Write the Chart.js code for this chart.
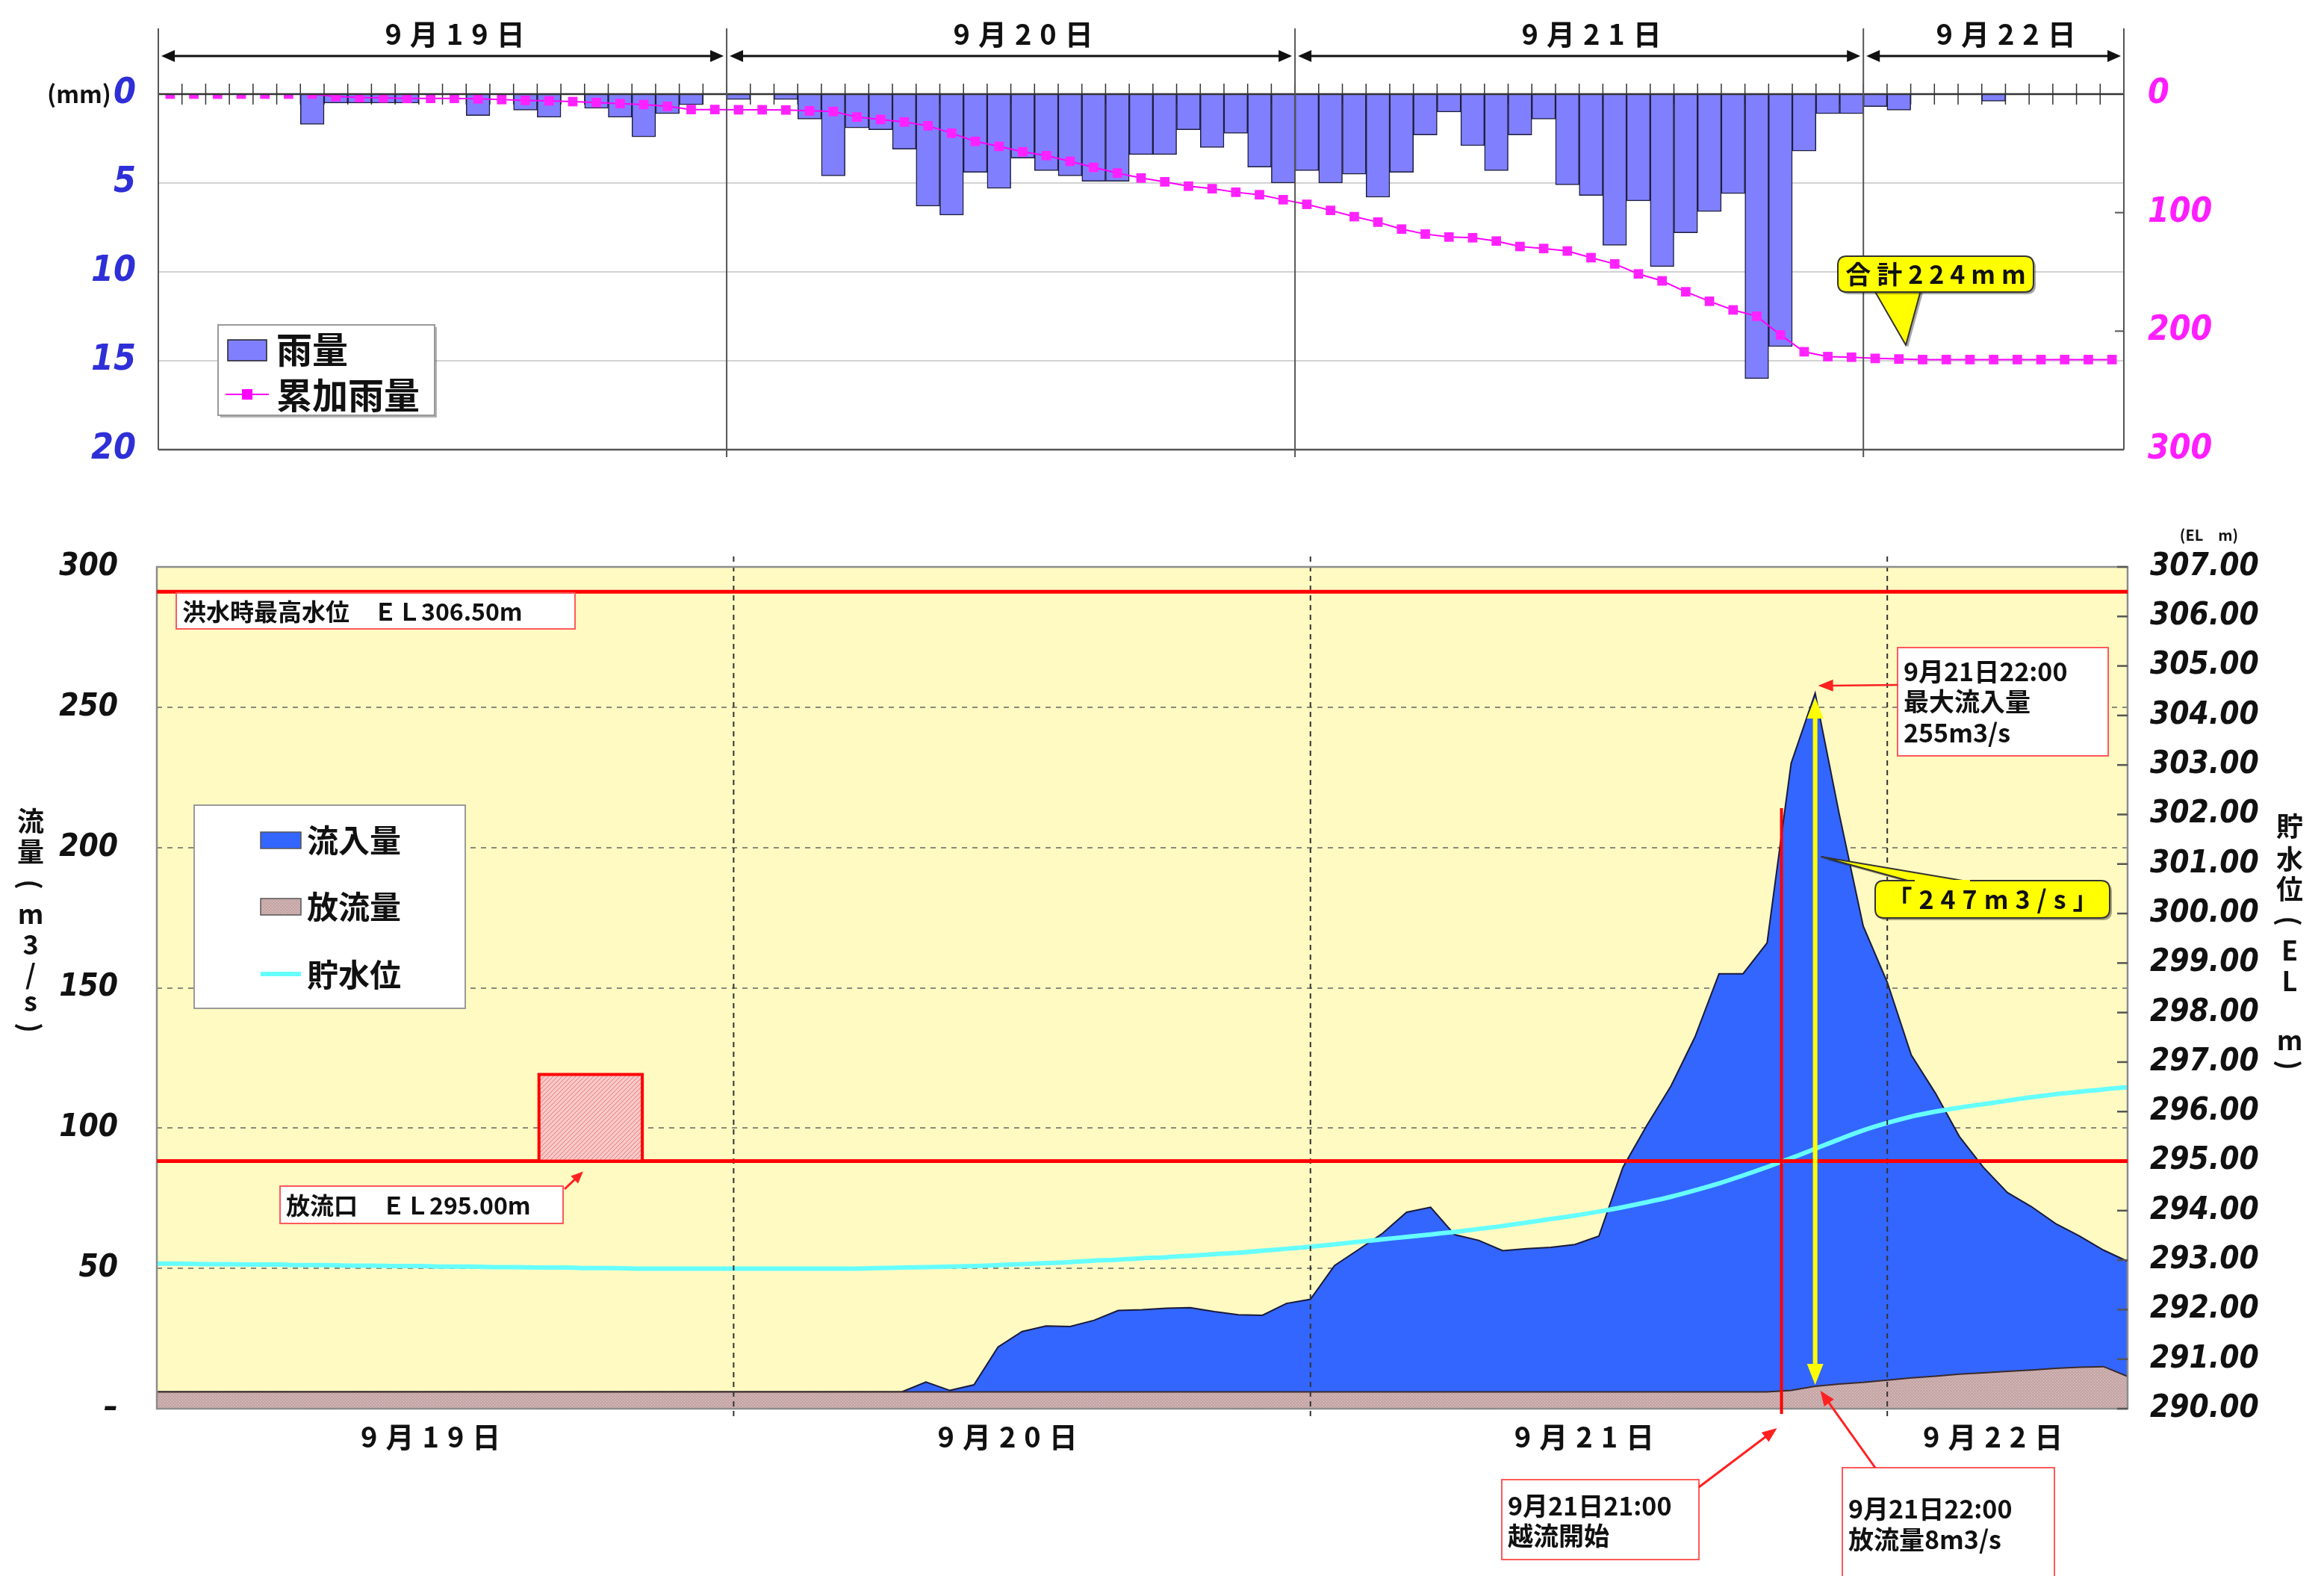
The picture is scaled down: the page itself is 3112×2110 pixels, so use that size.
<!DOCTYPE html>
<html>
<head>
<meta charset="utf-8">
<script src="https://cdn.jsdelivr.net/npm/chart.js@4.4.1/dist/chart.umd.min.js"></script>
<style>
  html, body { margin: 0; padding: 0; background: #fff; }
  #wrap { position: relative; width: 3112px; height: 2110px; overflow: hidden; }
  canvas { position: absolute; left: 0; }
  #rainCanvas { top: 0; }
  #flowCanvas { top: 640px; }
</style>
</head>
<body>
<div id="wrap">
  <canvas id="rainCanvas" width="3112" height="640"></canvas>
  <canvas id="flowCanvas" width="3112" height="1470"></canvas>
</div>
<script>
// ---- data (hourly, 9/19 0:00 .. 9/22 10:00) ----
const days = ['9月19日', '9月20日', '9月21日', '9月22日'];
const dayStarts = [0, 24, 48, 72];
const hoursShown = 83;

// hourly rainfall (mm)
const rainfall = [
  0, 0, 0, 0, 0, 0, 1.7, 0.5, 0.5, 0.5, 0.5, 0, 0, 1.2, 0, 0.9, 1.3, 0, 0.8, 1.3, 2.4, 1.1, 0.6, 0,
  0.3, 0, 0.3, 1.4, 4.6, 1.9, 2.0, 3.1, 6.3, 6.8, 4.4, 5.3, 3.6, 4.3, 4.6, 4.9, 4.9, 3.4, 3.4, 2.0, 3.0, 2.2, 4.1, 5.0,
  4.3, 5.0, 4.5, 5.8, 4.4, 2.3, 1.0, 2.9, 4.3, 2.3, 1.4, 5.1, 5.7, 8.5, 6.0, 9.7, 7.8, 6.6, 5.6, 16.0, 14.2, 3.2, 1.1, 1.1,
  0.7, 0.9, 0, 0, 0, 0.4, 0, 0, 0, 0, 0
];
// cumulative rainfall (mm)
const cumulativeRain = [
  0, 0, 0, 0, 0, 0, 0, 2.1, 2.9, 3.2, 3.6, 3.6, 3.6, 4.0, 4.6, 5.3, 5.7, 6.3, 7.1, 8.0, 8.8, 10.3, 13.0, 13.0,
  13.2, 13.2, 13.4, 14.1, 14.7, 19.3, 21.4, 23.5, 26.7, 33.0, 39.9, 44.1, 48.7, 51.9, 56.7, 61.8, 66.6, 70.8, 74.0, 77.7, 79.8, 82.8, 84.9, 89.1,
  93.0, 98.1, 103.4, 108.0, 113.9, 118.1, 120.6, 121.2, 124.0, 128.6, 130.3, 132.4, 138.0, 143.3, 151.7, 157.6, 166.8, 174.8, 182.1, 187.4, 203.2, 217.4, 221.5, 222.0,
  223.0, 223.5, 224, 224, 224, 224, 224, 224, 224, 224, 224
];
// inflow (m3/s)
const inflow = [
  6, 6, 6, 6, 6, 6, 6, 6, 6, 6, 6, 6, 6, 6, 6, 6, 6, 6, 6, 6, 6, 6, 6, 6,
  6, 6, 6, 6, 6, 6, 6, 6, 9.5, 6.5, 8.5, 22, 27.5, 29.5, 29.3, 31.5, 35, 35.3, 35.8, 36, 34.6, 33.5, 33.3, 37.5,
  39, 51, 56.7, 62.5, 70, 71.8, 62, 60, 56.3, 57, 57.5, 58.5, 61.5, 86, 101, 115, 132.5, 155, 155, 166, 230, 255, 212, 172,
  152, 126, 112.5, 97, 86, 77, 72, 66, 61.5, 56.5, 52.5
];
// outflow (m3/s)
const outflow = [
  6, 6, 6, 6, 6, 6, 6, 6, 6, 6, 6, 6, 6, 6, 6, 6, 6, 6, 6, 6, 6, 6, 6, 6,
  6, 6, 6, 6, 6, 6, 6, 6, 6, 6, 6, 6, 6, 6, 6, 6, 6, 6, 6, 6, 6, 6, 6, 6,
  6, 6, 6, 6, 6, 6, 6, 6, 6, 6, 6, 6, 6, 6, 6, 6, 6, 6, 6, 6, 6.5, 8, 8.8, 9.4,
  10.2, 11, 11.6, 12.3, 12.8, 13.3, 13.8, 14.4, 14.8, 15, 11.5
];
// reservoir level (EL m)
const reservoirLevel = [
  292.93, 292.93, 292.92, 292.92, 292.91, 292.91, 292.90, 292.90, 292.89, 292.89, 292.88, 292.88,
  292.87, 292.87, 292.86, 292.86, 292.85, 292.85, 292.84, 292.84, 292.83, 292.83, 292.83, 292.83,
  292.83, 292.83, 292.83, 292.83, 292.83, 292.83, 292.84, 292.85, 292.86, 292.87, 292.88, 292.90,
  292.92, 292.94, 292.96, 292.99, 293.01, 293.04, 293.06, 293.09, 293.12, 293.15, 293.19, 293.23,
  293.27, 293.32, 293.37, 293.42, 293.47, 293.52, 293.57, 293.63, 293.69, 293.76, 293.83, 293.90,
  293.98, 294.07, 294.17, 294.28, 294.41, 294.55, 294.71, 294.88, 295.06, 295.25, 295.44, 295.62,
  295.77, 295.90, 296.00, 296.08, 296.15, 296.22, 296.29, 296.35, 296.40, 296.45, 296.49
];

const rainTicks = [0, 5, 10, 15, 20];
const cumTicks = [0, 100, 200, 300];
const flowTicks = [0, 50, 100, 150, 200, 250, 300];
const levelTicks = [290, 291, 292, 293, 294, 295, 296, 297, 298, 299, 300, 301, 302, 303, 304, 305, 306, 307];

// annotation values
const floodLevel = 306.5;
const outletLevel = 295.0;
const outletMark = { from: 15.9, to: 20.2, top: 296.75 };
const peakHour = 69;
const peakInflow = 255;
const peakOutflow = 8;
const overflowHour = 67.6;
const overflowLineTop = 214;

const floodText = '洪水時最高水位　ＥＬ306.50m';
const outletText = '放流口　ＥＬ295.00m';
const peakText = ['9月21日22:00', '最大流入量', '255m3/s'];
const netText = '「247m3/s」';
const overflowText = ['9月21日21:00', '越流開始'];
const outflowText = ['9月21日22:00', '放流量8m3/s'];
const totalText = '合計224mm';

const hourLabels = [];
for (let h = 0; h < hoursShown; h++) {
  hourLabels.push(days[Math.floor(h / 24)] + ' ' + (h % 24) + ':00');
}

// ---- drawing helpers ----
const JP = '"Noto Sans CJK JP", "Noto Sans", sans-serif';
const NUM = '"Liberation Sans Narrow", "DejaVu Sans Condensed", "Liberation Sans", sans-serif';

function line(ctx, x1, y1, x2, y2) {
  ctx.beginPath();
  ctx.moveTo(x1, y1);
  ctx.lineTo(x2, y2);
  ctx.stroke();
}

function arrowHead(ctx, x, y, ang, len, half) {
  ctx.beginPath();
  ctx.moveTo(x, y);
  ctx.lineTo(x - len * Math.cos(ang) + half * Math.sin(ang), y - len * Math.sin(ang) - half * Math.cos(ang));
  ctx.lineTo(x - len * Math.cos(ang) - half * Math.sin(ang), y - len * Math.sin(ang) + half * Math.cos(ang));
  ctx.closePath();
  ctx.fill();
}

function arrow(ctx, x1, y1, x2, y2, color, width, len, half) {
  const ang = Math.atan2(y2 - y1, x2 - x1);
  ctx.save();
  ctx.strokeStyle = color;
  ctx.fillStyle = color;
  ctx.lineWidth = width;
  line(ctx, x1, y1, x2 - Math.cos(ang) * len * 0.7, y2 - Math.sin(ang) * len * 0.7);
  arrowHead(ctx, x2, y2, ang, len, half);
  ctx.restore();
}

function textBox(ctx, x, y, w, h, lines, lineYs, size) {
  ctx.save();
  ctx.fillStyle = '#ffffff';
  ctx.fillRect(x, y, w, h);
  ctx.strokeStyle = '#ff5a5a';
  ctx.lineWidth = 2;
  ctx.strokeRect(x, y, w, h);
  ctx.fillStyle = '#111';
  ctx.font = 'bold ' + size + 'px ' + JP;
  ctx.textAlign = 'left';
  ctx.textBaseline = 'middle';
  lines.forEach((t, i) => ctx.fillText(t, x + 8, lineYs[i]));
  ctx.restore();
}

function roundRect(ctx, x, y, w, h, r) {
  ctx.beginPath();
  ctx.moveTo(x + r, y);
  ctx.lineTo(x + w - r, y);
  ctx.quadraticCurveTo(x + w, y, x + w, y + r);
  ctx.lineTo(x + w, y + h - r);
  ctx.quadraticCurveTo(x + w, y + h, x + w - r, y + h);
  ctx.lineTo(x + r, y + h);
  ctx.quadraticCurveTo(x, y + h, x, y + h - r);
  ctx.lineTo(x, y + r);
  ctx.quadraticCurveTo(x, y, x + r, y);
  ctx.closePath();
}

function callout(ctx, x, y, w, h, base1, base2, tip, text, size, spacing) {
  ctx.save();
  ctx.fillStyle = '#ffff00';
  ctx.strokeStyle = '#333';
  ctx.lineWidth = 2;
  ctx.shadowColor = 'rgba(0,0,0,0.35)';
  ctx.shadowOffsetX = 3;
  ctx.shadowOffsetY = 3;
  ctx.beginPath();
  ctx.moveTo(base1[0], base1[1]);
  ctx.lineTo(tip[0], tip[1]);
  ctx.lineTo(base2[0], base2[1]);
  ctx.closePath();
  ctx.fill();
  ctx.shadowColor = 'transparent';
  ctx.stroke();
  ctx.shadowColor = 'rgba(0,0,0,0.35)';
  roundRect(ctx, x, y, w, h, 12);
  ctx.fill();
  ctx.shadowColor = 'transparent';
  ctx.stroke();
  ctx.beginPath();
  ctx.moveTo(base1[0] + 2, base1[1] - 1);
  ctx.lineTo(base2[0] - 2, base2[1] - 1);
  ctx.lineWidth = 4;
  ctx.strokeStyle = '#ffff00';
  ctx.stroke();
  ctx.fillStyle = '#111';
  ctx.font = 'bold ' + size + 'px ' + JP;
  ctx.letterSpacing = spacing + 'px';
  ctx.textAlign = 'center';
  ctx.textBaseline = 'middle';
  ctx.fillText(text, x + w / 2 + spacing / 2, y + h / 2);
  ctx.restore();
}

// stacked (tate-gaki) axis title; brackets are turned sideways
function verticalText(ctx, items, x, size) {
  ctx.save();
  ctx.fillStyle = '#111';
  ctx.font = 'bold ' + size + 'px ' + JP;
  ctx.textAlign = 'center';
  ctx.textBaseline = 'middle';
  items.forEach(([ch, y]) => {
    if (ch === '(' || ch === ')') {
      ctx.save();
      ctx.translate(x, y);
      ctx.rotate(Math.PI / 2);
      ctx.fillText(ch, 0, 0);
      ctx.restore();
    } else {
      ctx.fillText(ch, x, y);
    }
  });
  ctx.restore();
}

function dotPattern(base, dot) {
  const c = document.createElement('canvas');
  c.width = 4; c.height = 4;
  const g = c.getContext('2d');
  g.fillStyle = base;
  g.fillRect(0, 0, 4, 4);
  g.fillStyle = dot;
  g.fillRect(0, 0, 1, 1);
  g.fillRect(2, 2, 1, 1);
  return g.createPattern(c, 'repeat');
}

function hatchPattern(base, stroke) {
  const c = document.createElement('canvas');
  c.width = 6; c.height = 6;
  const g = c.getContext('2d');
  g.fillStyle = base;
  g.fillRect(0, 0, 6, 6);
  g.strokeStyle = stroke;
  g.lineWidth = 1;
  g.beginPath();
  g.moveTo(0, 6); g.lineTo(6, 0);
  g.moveTo(-1, 1); g.lineTo(1, -1);
  g.moveTo(5, 7); g.lineTo(7, 5);
  g.stroke();
  return g.createPattern(c, 'repeat');
}

// keep tick labels from pushing the plot area inward
function noLabelPadding(s) {
  s.paddingTop = 0;
  s.paddingBottom = 0;
}

const outflowFill = dotPattern('#c6a6a6', '#e2cdcd');
const outletFill = hatchPattern('#f8c8c8', '#e67a7a');

// ---- rainfall chart ----
const rainDecor = {
  id: 'rainDecor',
  beforeDatasetsDraw(chart) {
    const { ctx, scales: { x, yRain } } = chart;
    const y0 = yRain.getPixelForValue(0);
    ctx.save();
    ctx.strokeStyle = '#333';
    ctx.lineWidth = 1.5;
    for (let k = 1; k < hoursShown; k++) {
      const px = (x.getPixelForValue(k - 1) + x.getPixelForValue(k)) / 2;
      line(ctx, px, y0 - 14, px, y0 + 14);
    }
    ctx.restore();
  },
  afterDatasetsDraw(chart) {
    const { ctx, chartArea: a, scales: { x, yRain, yCum } } = chart;
    const bounds = [a.left];
    dayStarts.slice(1).forEach(h => bounds.push((x.getPixelForValue(h - 1) + x.getPixelForValue(h)) / 2));
    bounds.push(a.right);

    ctx.save();
    // zero line and frame
    ctx.strokeStyle = '#333';
    ctx.lineWidth = 2.5;
    line(ctx, a.left, yRain.getPixelForValue(0), a.right, yRain.getPixelForValue(0));
    ctx.strokeStyle = '#555';
    line(ctx, a.left, a.bottom, a.right, a.bottom);
    ctx.lineWidth = 2;
    bounds.forEach((b, i) => {
      const bottom = (i === 0 || i === bounds.length - 1) ? a.bottom : a.bottom + 10;
      line(ctx, b, 38, b, bottom);
    });
    // inward ticks on the right axis
    cumTicks.slice(1, -1).forEach(v => line(ctx, a.right - 12, yCum.getPixelForValue(v), a.right, yCum.getPixelForValue(v)));

    // header: day names with double arrows
    ctx.fillStyle = '#111';
    ctx.strokeStyle = '#111';
    ctx.lineWidth = 3;
    ctx.font = 'bold 38px ' + JP;
    ctx.textAlign = 'center';
    ctx.textBaseline = 'middle';
    ctx.letterSpacing = '11px';
    for (let i = 0; i < days.length; i++) {
      const l = bounds[i], r = bounds[i + 1];
      ctx.fillText(days[i], (l + r) / 2 + 22, 46);
      line(ctx, l + 8, 75, r - 8, 75);
      arrowHead(ctx, l + 4, 75, Math.PI, 18, 8);
      arrowHead(ctx, r - 4, 75, 0, 18, 8);
    }
    ctx.restore();
  },
  afterDraw(chart) {
    const { ctx, scales: { yRain } } = chart;
    ctx.save();
    // unit label
    ctx.fillStyle = '#111';
    ctx.font = 'bold 32px ' + JP;
    ctx.textAlign = 'center';
    ctx.textBaseline = 'middle';
    ctx.fillText('(mm)', 106, yRain.getPixelForValue(0));

    // legend
    ctx.shadowColor = 'rgba(0,0,0,0.3)';
    ctx.shadowOffsetX = 3;
    ctx.shadowOffsetY = 3;
    ctx.fillStyle = '#fff';
    ctx.fillRect(292, 435, 290, 121);
    ctx.shadowColor = 'transparent';
    ctx.strokeStyle = '#999';
    ctx.lineWidth = 2;
    ctx.strokeRect(292, 435, 290, 121);
    ctx.fillStyle = '#8080ff';
    ctx.fillRect(305, 455, 52, 28);
    ctx.strokeStyle = '#222';
    ctx.lineWidth = 1.5;
    ctx.strokeRect(305, 455, 52, 28);
    ctx.strokeStyle = '#ff00ff';
    ctx.lineWidth = 2;
    line(ctx, 302, 528, 360, 528);
    ctx.fillStyle = '#ff00ff';
    ctx.fillRect(324, 521, 14, 14);
    ctx.fillStyle = '#111';
    ctx.font = 'bold 48px ' + JP;
    ctx.textAlign = 'left';
    ctx.fillText('雨量', 370, 468);
    ctx.fillText('累加雨量', 370, 529);
    ctx.restore();

    // total callout
    callout(ctx, 2461, 343, 262, 48, [2510, 389], [2572, 389], [2552, 462], totalText, 34, 8);
  }
};

new Chart(document.getElementById('rainCanvas'), {
  type: 'bar',
  data: {
    labels: hourLabels,
    datasets: [
      {
        type: 'line',
        label: '累加雨量',
        data: cumulativeRain,
        yAxisID: 'yCum',
        borderColor: '#ff00ff',
        backgroundColor: '#ff00ff',
        borderWidth: 2,
        pointStyle: 'rect',
        pointRadius: 9,
        pointBorderWidth: 0,
        pointBackgroundColor: '#ff22ff',
        tension: 0,
        order: 0
      },
      {
        label: '雨量',
        data: rainfall,
        yAxisID: 'yRain',
        backgroundColor: '#8080ff',
        borderColor: '#1e1e3c',
        borderWidth: 1.5,
        barPercentage: 1,
        categoryPercentage: 1,
        order: 1
      }
    ]
  },
  options: {
    responsive: false,
    animation: false,
    layout: { padding: { left: 0, right: 0, top: 0, bottom: 38 } },
    plugins: { legend: { display: false }, tooltip: { enabled: false } },
    scales: {
      x: {
        position: 'top',
        offset: true,
        grid: { display: false },
        ticks: { display: false },
        border: { display: false },
        afterFit(s) { s.height = 126; }
      },
      yRain: {
        position: 'left',
        reverse: true,
        min: rainTicks[0],
        max: rainTicks[rainTicks.length - 1],
        afterBuildTicks(s) { s.ticks = rainTicks.map(v => ({ value: v })); },
        ticks: {
          color: '#2f2fd8',
          padding: 30,
          font: { family: NUM, size: 48, weight: 'bold', style: 'italic' }
        },
        grid: {
          drawTicks: false,
          lineWidth: 2,
          color: c => (c.tick && (c.tick.value === 0 || c.tick.value === 20)) ? 'rgba(0,0,0,0)' : '#d2d2d2'
        },
        border: { display: false },
        afterFit(s) { s.width = 212; noLabelPadding(s); }
      },
      yCum: {
        position: 'right',
        reverse: true,
        min: cumTicks[0],
        max: cumTicks[cumTicks.length - 1],
        afterBuildTicks(s) { s.ticks = cumTicks.map(v => ({ value: v })); },
        ticks: {
          color: '#ff1eff',
          padding: 32,
          font: { family: NUM, size: 46, weight: 'bold', style: 'italic' }
        },
        grid: { drawOnChartArea: false, drawTicks: false },
        border: { display: false },
        afterFit(s) { s.width = 268; noLabelPadding(s); }
      }
    }
  },
  plugins: [rainDecor]
});

// ---- flow / reservoir chart ----
const flowDecor = {
  id: 'flowDecor',
  beforeDraw(chart) {
    const { ctx, chartArea: a } = chart;
    ctx.save();
    ctx.fillStyle = '#fffac2';
    ctx.fillRect(a.left, a.top, a.right - a.left, a.bottom - a.top);
    ctx.restore();
  },
  afterDatasetsDraw(chart) {
    const { ctx, chartArea: a, scales: { x, yFlow, yLevel } } = chart;
    ctx.save();
    // day dividers (dashed)
    ctx.strokeStyle = '#333';
    ctx.lineWidth = 2;
    ctx.setLineDash([7, 6]);
    dayStarts.slice(1).forEach(h => line(ctx, x.getPixelForValue(h), a.top - 14, x.getPixelForValue(h), a.bottom + 14));
    ctx.setLineDash([]);

    // frame
    ctx.strokeStyle = '#8c8c8c';
    ctx.lineWidth = 2.5;
    ctx.strokeRect(a.left, a.top, a.right - a.left, a.bottom - a.top);
    ctx.strokeStyle = '#555';
    levelTicks.forEach(v => line(ctx, a.right - 14, yLevel.getPixelForValue(v), a.right, yLevel.getPixelForValue(v)));

    // reference levels
    ctx.strokeStyle = '#ff0000';
    ctx.lineWidth = 5;
    line(ctx, a.left, yLevel.getPixelForValue(floodLevel), a.right, yLevel.getPixelForValue(floodLevel));
    line(ctx, a.left, yLevel.getPixelForValue(outletLevel), a.right, yLevel.getPixelForValue(outletLevel));

    // outlet marker
    const ox1 = x.getPixelForValue(outletMark.from), ox2 = x.getPixelForValue(outletMark.to);
    const oy1 = yLevel.getPixelForValue(outletMark.top), oy2 = yLevel.getPixelForValue(outletLevel);
    ctx.fillStyle = outletFill;
    ctx.fillRect(ox1, oy1, ox2 - ox1, oy2 - oy1);
    ctx.lineWidth = 4;
    ctx.strokeRect(ox1, oy1, ox2 - ox1, oy2 - oy1);

    // overflow start line
    const vx = x.getPixelForValue(overflowHour);
    ctx.lineWidth = 4;
    line(ctx, vx, yFlow.getPixelForValue(overflowLineTop), vx, a.bottom + 7);

    // peak double arrow
    const px = x.getPixelForValue(peakHour);
    const yTop = yFlow.getPixelForValue(peakInflow) + 6;
    const yBot = yFlow.getPixelForValue(peakOutflow) - 2;
    ctx.strokeStyle = '#ffff00';
    ctx.fillStyle = '#ffff00';
    ctx.lineWidth = 6;
    line(ctx, px, yTop + 20, px, yBot - 20);
    arrowHead(ctx, px, yTop, -Math.PI / 2, 28, 11);
    arrowHead(ctx, px, yBot, Math.PI / 2, 28, 11);
    ctx.restore();
  },
  afterDraw(chart) {
    const { ctx, chartArea: a, scales: { x, yFlow, yLevel } } = chart;
    ctx.save();
    // day labels under the axis
    ctx.fillStyle = '#111';
    ctx.font = 'bold 38px ' + JP;
    ctx.letterSpacing = '11px';
    ctx.textAlign = 'center';
    ctx.textBaseline = 'middle';
    days.forEach((d, i) => {
      const end = i + 1 < dayStarts.length ? dayStarts[i + 1] : hoursShown - 1;
      ctx.fillText(d, x.getPixelForValue((dayStarts[i] + end) / 2) - 14, a.bottom + 38);
    });
    ctx.letterSpacing = '0px';

    // unit over right axis
    ctx.font = 'bold 20px ' + JP;
    ctx.fillText('(EL　m)', 2958, 76);
    ctx.restore();

    // axis titles
    verticalText(ctx, [['流', 459], ['量', 500], ['(', 544], ['m', 583], ['3', 624], ['/', 664], ['s', 700], [')', 736]], 41, 36);
    verticalText(ctx, [['貯', 466], ['水', 510], ['位', 550], ['(', 593], ['E', 632], ['L', 673], ['m', 752], [')', 786]], 3066, 36);

    // legend
    ctx.save();
    ctx.fillStyle = '#fff';
    ctx.fillRect(260, 438, 363, 272);
    ctx.strokeStyle = '#9a9a9a';
    ctx.lineWidth = 2;
    ctx.strokeRect(260, 438, 363, 272);
    ctx.fillStyle = '#3366ff';
    ctx.fillRect(349, 474, 54, 22);
    ctx.fillStyle = outflowFill;
    ctx.fillRect(349, 563, 54, 22);
    ctx.strokeStyle = '#555';
    ctx.lineWidth = 1.5;
    ctx.strokeRect(349, 474, 54, 22);
    ctx.strokeRect(349, 563, 54, 22);
    ctx.strokeStyle = '#66ffff';
    ctx.lineWidth = 6;
    line(ctx, 349, 664, 403, 664);
    ctx.fillStyle = '#111';
    ctx.font = 'bold 42px ' + JP;
    ctx.textAlign = 'left';
    ctx.textBaseline = 'middle';
    ctx.fillText('流入量', 411, 485);
    ctx.fillText('放流量', 411, 574);
    ctx.fillText('貯水位', 411, 665);
    ctx.restore();

    // annotation boxes
    textBox(ctx, 236, 154, 534, 48, [floodText], [179], 32);
    textBox(ctx, 375, 948, 379, 50, [outletText], [974], 32);
    arrow(ctx, 756, 952, x.getPixelForValue((outletMark.from + outletMark.to) / 2) - 10, yLevel.getPixelForValue(outletLevel) + 14, '#ff2020', 3, 16, 7);

    const px = x.getPixelForValue(peakHour);
    textBox(ctx, 2541, 227, 282, 145, peakText, [259, 299, 341], 34);
    arrow(ctx, 2541, 277, px + 4, yFlow.getPixelForValue(peakInflow) - 10, '#ff2020', 2.5, 20, 8);

    callout(ctx, 2511, 539, 314, 50, [2562, 541], [2640, 541], [px + 8, 507], netText, 34, 9);

    textBox(ctx, 2011, 1341, 264, 107, overflowText, [1376, 1416], 34);
    arrow(ctx, 2275, 1351, x.getPixelForValue(overflowHour) - 6, a.bottom + 26, '#ff2020', 3, 20, 8);

    textBox(ctx, 2467, 1325, 284, 150, outflowText, [1380, 1421], 34);
    arrow(ctx, 2511, 1325, px + 7, yFlow.getPixelForValue(peakOutflow) + 6, '#ff2020', 3, 20, 8);
  }
};

new Chart(document.getElementById('flowCanvas'), {
  type: 'line',
  data: {
    labels: hourLabels,
    datasets: [
      {
        label: '貯水位',
        data: reservoirLevel,
        yAxisID: 'yLevel',
        borderColor: '#66ffff',
        borderWidth: 6,
        pointRadius: 0,
        fill: false,
        cubicInterpolationMode: 'monotone',
        order: 0
      },
      {
        label: '放流量',
        data: outflow,
        yAxisID: 'yFlow',
        borderColor: '#3a2a2a',
        borderWidth: 2,
        backgroundColor: outflowFill,
        pointRadius: 0,
        fill: 'origin',
        tension: 0,
        order: 1
      },
      {
        label: '流入量',
        data: inflow,
        yAxisID: 'yFlow',
        borderColor: '#1a1a3a',
        borderWidth: 2,
        backgroundColor: '#3366ff',
        pointRadius: 0,
        fill: 'origin',
        tension: 0,
        order: 2
      }
    ]
  },
  options: {
    responsive: false,
    animation: false,
    layout: { padding: { left: 0, right: 0, top: 119, bottom: 224 } },
    plugins: { legend: { display: false }, tooltip: { enabled: false } },
    scales: {
      x: {
        grid: { display: false },
        ticks: { display: false },
        border: { display: false },
        afterFit(s) { s.height = 0; }
      },
      yFlow: {
        position: 'left',
        min: flowTicks[0],
        max: flowTicks[flowTicks.length - 1],
        afterBuildTicks(s) { s.ticks = flowTicks.map(v => ({ value: v })); },
        ticks: {
          color: '#111',
          padding: 52,
          font: { family: NUM, size: 42, weight: 'bold', style: 'italic' },
          callback: v => (v === 0 ? '–' : v)
        },
        grid: {
          drawTicks: false,
          lineWidth: 2,
          color: c => (c.tick && (c.tick.value === 0 || c.tick.value === 300)) ? 'rgba(0,0,0,0)' : '#8a8a7a'
        },
        border: { display: false, dash: [7, 7] },
        afterFit(s) { s.width = 210; noLabelPadding(s); }
      },
      yLevel: {
        position: 'right',
        min: levelTicks[0],
        max: levelTicks[levelTicks.length - 1],
        afterBuildTicks(s) { s.ticks = levelTicks.map(v => ({ value: v })); },
        ticks: {
          color: '#111',
          padding: 30,
          font: { family: NUM, size: 42, weight: 'bold', style: 'italic' },
          callback: v => v.toFixed(2)
        },
        grid: { drawOnChartArea: false, drawTicks: false },
        border: { display: false },
        afterFit(s) { s.width = 263; noLabelPadding(s); }
      }
    }
  },
  plugins: [flowDecor]
});
</script>
</body>
</html>
